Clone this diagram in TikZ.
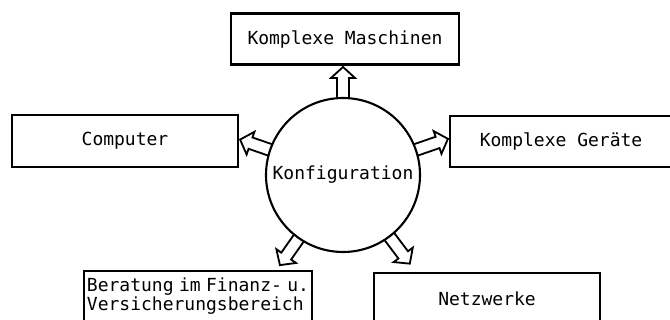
\documentclass[tikz,border=0pt]{standalone}
\usepackage{fontspec}
\setmainfont{DejaVu Sans Mono}
\tikzset{
  field/.style={draw, line width=1.5pt, rectangle, minimum width=5.7cm, minimum height=1.275cm, inner sep=0pt},
  hub/.style={draw, line width=1.5pt, circle, minimum size=3.85cm, inner sep=0pt},
  hollow/.style={draw, line width=1.3pt, line join=miter}
}
% hollow block arrow leaving the circle: #1 angle, #2 tip radius
\newcommand{\hollowarrow}[2]{%
  \begin{scope}[shift={(konf.center)}, rotate=#1]
    \draw[hollow] (1.92,-0.15) -- (#2-0.275,-0.15) -- (#2-0.275,-0.3) -- (#2,0)
      -- (#2-0.275,0.3) -- (#2-0.275,0.15) -- (1.92,0.15);
  \end{scope}}

\begin{document}
\begin{tikzpicture}[font=\fontsize{12.8pt}{13.4pt}\selectfont]
    \path[use as bounding box, clip] (0,0) rectangle (16.75,8);
    \node[hub] (konf) at (8.575,3.625) {Konfiguration};
    \node[field] (masch) at (8.625,7.025) {Komplexe Maschinen};
    \node[field, minimum width=5.65cm, minimum height=1.3cm] (comp) at (3.125,4.475) {Computer};
    \node[field, minimum width=5.55cm] (geraete) at (14.025,4.4625) {Komplexe Geräte};
    \node[field, align=left] (berat) at (4.95,0.5875)
      {Beratung\hspace{0.3em}im\hspace{0.3em}Finanz-\hspace{0.3em}u.\\Versicherungsbereich};
    \node[field, minimum width=5.65cm] (netz) at (12.175,0.5375) {Netzwerke};
    \hollowarrow{90}{2.7}
    \hollowarrow{161}{2.72}
    \hollowarrow{19}{2.775}
    \hollowarrow{235}{2.75}
    \hollowarrow{307}{2.775}
\end{tikzpicture}
\end{document}
